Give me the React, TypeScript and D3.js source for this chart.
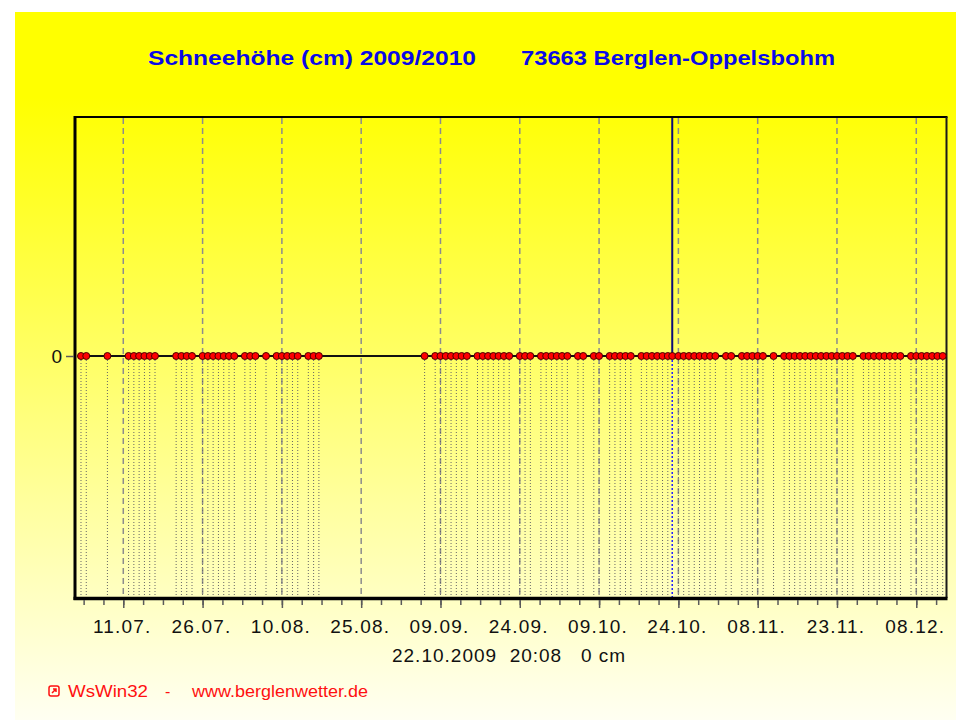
import React, { useRef, useEffect } from 'react';
import * as d3 from 'd3';

// Beschriftung der Hauptmarken (alle 15 Tage)
const tickLabels = ['11.07.', '26.07.', '10.08.', '25.08.', '09.09.', '24.09.', '09.10.', '24.10.', '08.11.', '23.11.', '08.12.'];

// Tage mit Messwert (Schneehöhe in cm)
const obsDates = [
  '03.07.', '04.07.', '08.07.', '12.07.', '13.07.', '14.07.', '15.07.', '16.07.', '17.07.',
  '21.07.', '22.07.', '23.07.', '24.07.', '26.07.', '27.07.', '28.07.', '29.07.', '30.07.',
  '31.07.', '01.08.', '03.08.', '04.08.', '05.08.', '07.08.', '09.08.', '10.08.', '11.08.',
  '12.08.', '13.08.', '15.08.', '16.08.', '17.08.',
  '06.09.', '08.09.', '09.09.', '10.09.', '11.09.', '12.09.', '13.09.', '14.09.', '16.09.',
  '17.09.', '18.09.', '19.09.', '20.09.', '21.09.', '22.09.', '24.09.', '25.09.', '26.09.',
  '28.09.', '29.09.', '30.09.', '01.10.', '02.10.', '03.10.', '05.10.', '06.10.', '08.10.',
  '09.10.', '11.10.', '12.10.', '13.10.', '14.10.', '15.10.', '17.10.', '18.10.', '19.10.',
  '20.10.', '21.10.', '22.10.',
  '24.10.', '25.10.', '26.10.', '27.10.', '28.10.', '29.10.', '30.10.', '31.10.', '02.11.',
  '03.11.', '05.11.', '06.11.', '07.11.', '08.11.', '09.11.', '11.11.', '13.11.', '14.11.',
  '15.11.', '16.11.', '17.11.', '18.11.', '19.11.', '20.11.', '21.11.', '22.11.', '23.11.',
  '24.11.', '25.11.', '26.11.', '28.11.', '29.11.', '30.11.', '01.12.', '02.12.', '03.12.',
  '04.12.', '05.12.', '07.12.', '08.12.', '09.12.', '10.12.', '11.12.', '12.12.', '13.12.'
];
const snowCm = [
  0, 0, 0, 0, 0, 0, 0, 0, 0,
  0, 0, 0, 0, 0, 0, 0, 0, 0,
  0, 0, 0, 0, 0, 0, 0, 0, 0,
  0, 0, 0, 0, 0,
  0, 0, 0, 0, 0, 0, 0, 0, 0,
  0, 0, 0, 0, 0, 0, 0, 0, 0,
  0, 0, 0, 0, 0, 0, 0, 0, 0,
  0, 0, 0, 0, 0, 0, 0, 0, 0,
  0, 0, 0,
  0, 0, 0, 0, 0, 0, 0, 0, 0,
  0, 0, 0, 0, 0, 0, 0, 0, 0,
  0, 0, 0, 0, 0, 0, 0, 0, 0,
  0, 0, 0, 0, 0, 0, 0, 0, 0,
  0, 0, 0, 0, 0, 0, 0, 0, 0
];

// aktueller Wert
const nowStamp = '22.10.2009 20:08';
const nowCm = 0;

const W = 956;
const H = 720;

const App = () => {
  const ref = useRef<SVGSVGElement>(null);

  useEffect(() => {
    const svg = d3.select(ref.current);
    svg.selectAll('*').remove();

    const left = 75.7, right = 946.5, top = 117, bottom = 598;
    const font = '"Liberation Sans", Arial, sans-serif';

    const parseDay = d3.timeParse('%d.%m.%Y');
    const parseStamp = d3.timeParse('%d.%m.%Y %H:%M');

    const pts = obsDates.map((s, i) => ({ t: parseDay(s + '2009') as Date, v: snowCm[i] }));
    const nowPt = { t: parseStamp(nowStamp) as Date, v: nowCm };
    const all = [...pts, nowPt].sort((a, b) => +a.t - +b.t);

    const xScale = d3.scaleTime()
      .domain([new Date(2009, 6, 2), new Date(2009, 11, 14)])
      .range([left, 948]);
    const yScale = d3.scaleLinear().domain([-1, 1]).range([597, 115]);

    // Hintergrund
    const grad = svg.append('defs').append('linearGradient')
      .attr('id', 'bg').attr('x1', 0).attr('y1', 0).attr('x2', 0).attr('y2', 1);
    grad.append('stop').attr('offset', 0).attr('stop-color', '#ffff00');
    grad.append('stop').attr('offset', 0.12).attr('stop-color', '#ffff00');
    grad.append('stop').attr('offset', 1).attr('stop-color', '#fffff2');

    svg.append('rect').attr('width', W).attr('height', H).attr('fill', '#fff');
    svg.append('rect').attr('x', 15).attr('y', 12).attr('width', W - 15).attr('height', H - 12)
      .attr('fill', 'url(#bg)');

    // Titel
    const title = svg.append('g')
      .style('font-family', font).style('font-weight', 'bold').style('font-size', '21px')
      .style('white-space', 'pre').attr('fill', '#0a0ae6');
    title.append('text').attr('x', 148).attr('y', 65)
      .attr('textLength', 328).attr('lengthAdjust', 'spacingAndGlyphs')
      .text('Schneehöhe (cm)  2009/2010');
    title.append('text').attr('x', 521).attr('y', 65)
      .attr('textLength', 314).attr('lengthAdjust', 'spacingAndGlyphs')
      .text('73663 Berglen-Oppelsbohm');

    const majors = tickLabels.map(s => parseDay(s + '2009') as Date);
    const step = 90; // Stunden zwischen kleinen Marken
    const minors = d3.range(-2, majors.length * 4)
      .map(k => d3.timeHour.offset(majors[0], k * step))
      .filter(d => xScale(d) > left && xScale(d) < right);

    // gestrichelte Gitterlinien
    svg.append('g').selectAll('line').data(majors).join('line')
      .attr('x1', d => xScale(d)).attr('x2', d => xScale(d))
      .attr('y1', top + 1).attr('y2', bottom - 1)
      .attr('stroke', '#8c8c8c').attr('stroke-width', 1.5).attr('stroke-dasharray', '6,4');

    const y0 = yScale(0);

    // gepunktete Fallinien je Messwert
    svg.append('g').selectAll('line').data(pts).join('line')
      .attr('x1', d => xScale(d.t)).attr('x2', d => xScale(d.t))
      .attr('y1', d => yScale(d.v) + 4).attr('y2', bottom - 1)
      .attr('stroke', '#666').attr('stroke-width', 1).attr('stroke-dasharray', '1,2');

    // Markierung aktueller Zeitpunkt
    const xNow = xScale(nowPt.t);
    svg.append('line').attr('x1', xNow).attr('x2', xNow).attr('y1', top).attr('y2', y0)
      .attr('stroke', '#0c0c78').attr('stroke-width', 2);
    svg.append('line').attr('x1', xNow).attr('x2', xNow).attr('y1', y0).attr('y2', bottom)
      .attr('stroke', '#2020ff').attr('stroke-width', 1.5).attr('stroke-dasharray', '2,2');

    // Verbindungslinie
    const lineGenerator = d3.line<{ t: Date; v: number }>()
      .x(d => xScale(d.t))
      .y(d => yScale(d.v));
    svg.append('path').datum(all)
      .attr('d', lineGenerator)
      .attr('fill', 'none').attr('stroke', '#111').attr('stroke-width', 2);

    // Rahmen
    svg.append('line').attr('x1', left - 1).attr('x2', right + 1).attr('y1', top).attr('y2', top)
      .attr('stroke', '#000').attr('stroke-width', 2);
    svg.append('line').attr('x1', right).attr('x2', right).attr('y1', top).attr('y2', bottom)
      .attr('stroke', '#1a1a1a').attr('stroke-width', 2);
    svg.append('line').attr('x1', 75).attr('x2', 75).attr('y1', top - 1).attr('y2', bottom + 2)
      .attr('stroke', '#000').attr('stroke-width', 3);
    svg.append('line').attr('x1', 73.5).attr('x2', right + 1).attr('y1', bottom + 0.5).attr('y2', bottom + 0.5)
      .attr('stroke', '#000').attr('stroke-width', 3.5);

    // Punkte
    svg.append('g').selectAll('circle').data(all).join('circle')
      .attr('cx', d => xScale(d.t)).attr('cy', d => yScale(d.v)).attr('r', 3.5)
      .attr('fill', '#ff0000').attr('stroke', '#4a0000').attr('stroke-width', 1);

    // x-Achse
    const xMinor = svg.append('g').attr('transform', `translate(0,${bottom + 2})`)
      .call(d3.axisBottom(xScale).tickValues(minors).tickSize(5).tickFormat(() => ''));
    const xMajor = svg.append('g').attr('transform', `translate(0,${bottom + 2})`)
      .call(d3.axisBottom(xScale).tickValues(majors).tickSize(8)
        .tickFormat((d, i) => tickLabels[i]));
    [xMinor, xMajor].forEach(g => {
      g.select('.domain').remove();
      g.selectAll('.tick line').attr('stroke', '#5a5a5a').attr('stroke-width', 1.5);
    });
    xMajor.selectAll('.tick text')
      .attr('y', 33).attr('dy', 0).attr('dx', -1.5)
      .attr('fill', '#111')
      .style('font-family', font).style('font-size', '19px').style('letter-spacing', '1.2px');

    // y-Achse
    const yAxis = svg.append('g').attr('transform', 'translate(74,0)')
      .call(d3.axisLeft(yScale).tickValues([0]).tickSize(8).tickPadding(4).tickFormat(d3.format('d')));
    yAxis.select('.domain').remove();
    yAxis.selectAll('.tick line').attr('stroke', '#5a5a5a').attr('stroke-width', 1.5);
    yAxis.selectAll('.tick text').attr('fill', '#111')
      .style('font-family', font).style('font-size', '19px');

    // aktueller Wert unter der Achse
    svg.append('text')
      .attr('x', (left + right) / 2 - 2).attr('y', 662).attr('text-anchor', 'middle')
      .style('font-family', font).style('font-size', '19px').style('letter-spacing', '1px')
      .style('white-space', 'pre').attr('fill', '#111')
      .text(`${nowStamp.replace(' ', '  ')}   ${nowCm} cm`);

    // Fußzeile
    const foot = svg.append('g').attr('fill', '#ff1010')
      .style('font-family', font).style('font-size', '16px');
    foot.append('rect').attr('x', 49).attr('y', 686).attr('width', 10).attr('height', 10).attr('rx', 2)
      .attr('fill', 'none').attr('stroke', '#ff1010').attr('stroke-width', 1.5);
    foot.append('path').attr('d', 'M52,693 L56,689 M53,689 L56,689 L56,692')
      .attr('fill', 'none').attr('stroke', '#ff1010').attr('stroke-width', 1.5);
    foot.append('text').attr('x', 68).attr('y', 697)
      .attr('textLength', 80).attr('lengthAdjust', 'spacingAndGlyphs').text('WsWin32');
    foot.append('text').attr('x', 165).attr('y', 697).text('-');
    foot.append('text').attr('x', 192).attr('y', 697)
      .attr('textLength', 176).attr('lengthAdjust', 'spacingAndGlyphs').text('www.berglenwetter.de');
  }, []);

  return (
    <svg ref={ref} width={W} height={H}
      style={{ position: 'absolute', left: 0, top: 0, display: 'block' }} />
  );
};

export default App;
